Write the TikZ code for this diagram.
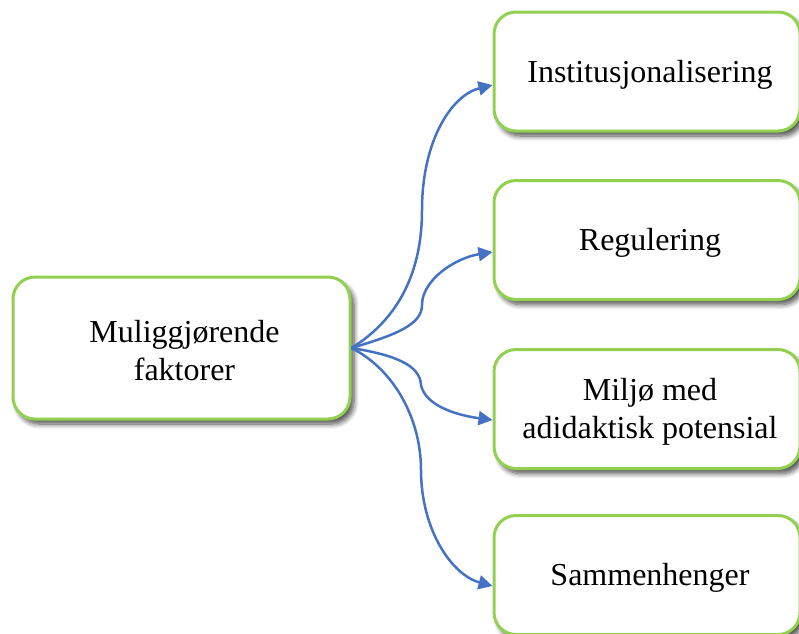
\documentclass[tikz,border=0pt]{standalone}
\usepackage{fontspec}
\setmainfont{Liberation Serif}
\usetikzlibrary{arrows.meta,shadows.blur}
\definecolor{boxgreen}{HTML}{92D050}
\definecolor{linkblue}{HTML}{4472C4}
\tikzset{
  box/.style={draw=boxgreen, line width=3pt, fill=white, rounded corners=22pt,
    inner sep=0pt,
    blur shadow={shadow xshift=4pt, shadow yshift=-5pt, shadow blur steps=8,
      shadow blur radius=5pt, shadow opacity=70}},
  srcbox/.style={box, minimum width=337pt, minimum height=142pt},
  factor/.style={box, minimum width=306pt, minimum height=119pt},
  boxtext/.style={align=center, inner sep=0pt, font=\fontsize{32}{38}\selectfont,
    xshift=3pt, yshift=-3pt},
  link/.style={draw=linkblue, line width=2.5pt, -{Triangle[length=14pt,width=14pt]}},
}
\begin{document}
\begin{tikzpicture}[x=1pt,y=-1pt]
\useasboundingbox (0,0) rectangle (799,633);

% source box
\node[srcbox] (src) at (181.5,348) {};
\node[boxtext] (srctext) at (src.center) {Muliggjørende\\faktorer};

% factor boxes
\node[factor] (f1) at (647,71.5) {};
\node[factor] (f2) at (647,240) {};
\node[factor] (f3) at (647,409) {};
\node[factor] (f4) at (647,575) {};
\node[boxtext] (f1text) at (f1.center) {Institusjonalisering};
\node[boxtext] (f2text) at (f2.center) {Regulering};
\node[boxtext] (f3text) at (f3.center) {Miljø med\\adidaktisk potensial};
\node[boxtext] (f4text) at (f4.center) {Sammenhenger};

% curved connectors fanning out from the source
\draw[link] (src.east) .. controls (400,318) and (422,270) .. (422,210)
  .. controls (422,140) and (452,95) .. ([yshift=-13.5pt]f1.west);
\draw[link] (src.east) .. controls (395,335) and (422,325) .. (422,305)
  .. controls (422,280) and (455,258) .. ([yshift=-12pt]f2.west);
\draw[link] (src.east) .. controls (395,355) and (420,365) .. (421,385)
  .. controls (425,405) and (455,415) .. ([yshift=-11pt]f3.west);
\draw[link] (src.east) .. controls (395,370) and (421,420) .. (421,470)
  .. controls (421,530) and (452,575) .. ([yshift=-11pt]f4.west);
\end{tikzpicture}
\end{document}
